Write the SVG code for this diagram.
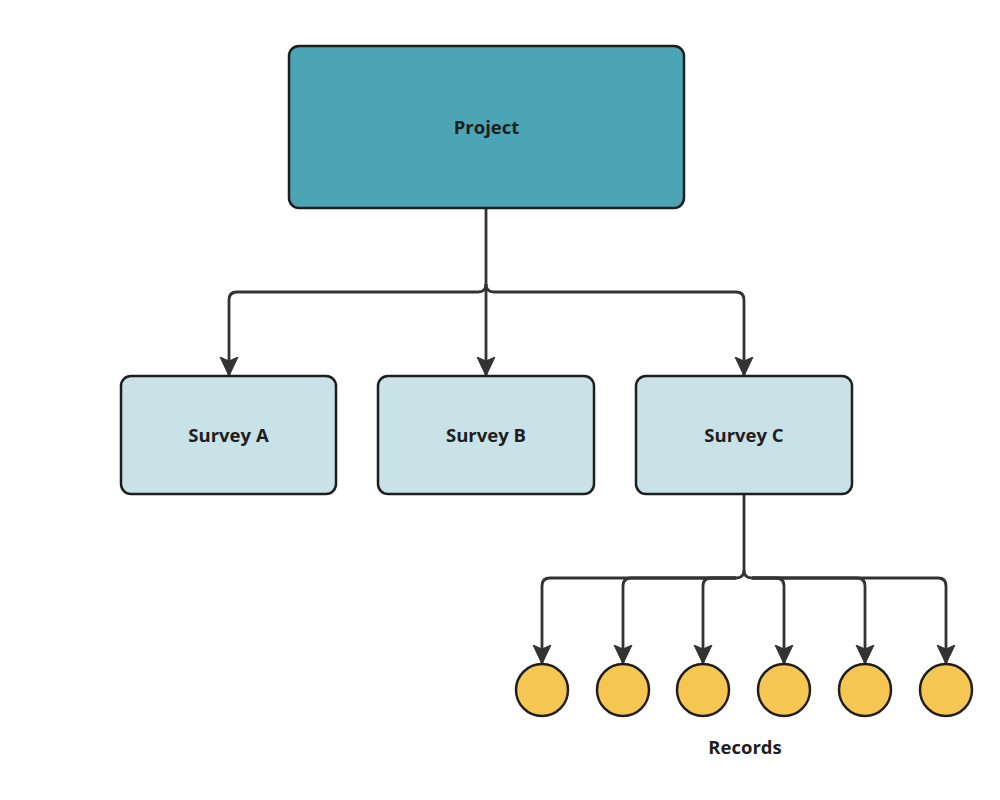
<svg xmlns="http://www.w3.org/2000/svg" width="1000" height="800" viewBox="0 0 1000 800">
<defs>
<style>
.node rect{stroke:#1e1e1e;stroke-width:2.5}
.proj{fill:#4ba5b4}
.survey{fill:#c9e2e7}
.rec{fill:#f5c752;stroke:#1e1e1e;stroke-width:2.5}
.lbl{font-family:"Open Sans","Liberation Sans",sans-serif;font-weight:bold;font-size:18.5px;fill:#1e1e1e;text-anchor:middle;dominant-baseline:central}
.conn path{fill:none;stroke:#333;stroke-width:2.8}
.conn path.a{marker-end:url(#arr)}
</style>
<marker id="arr" viewBox="0 0 20 20" refX="18" refY="10" markerWidth="20" markerHeight="20" markerUnits="userSpaceOnUse" orient="auto">
<path d="M0,1 L19,10 L0,19 L4,10 Z" fill="#333" stroke="#333" stroke-width="1" stroke-linejoin="round"/>
</marker>
</defs>
<rect width="1000" height="800" fill="#fff"/>
<g class="conn" id="connectors">
<path d="M486,209 V284"/>
<path class="a" d="M486,284 Q486,292 478,292 H237 Q229,292 229,300 V375"/>
<path class="a" d="M486,284 V375"/>
<path class="a" d="M486,284 Q486,292 494,292 H736 Q744,292 744,300 V375"/>
<path d="M744,495 V570"/>
<path class="a" d="M744,570 Q744,578 736,578 H550 Q542,578 542,586 V663"/>
<path class="a" d="M736,578 H631 Q623,578 623,586 V663"/>
<path class="a" d="M736,578 H711 Q703,578 703,586 V663"/>
<path class="a" d="M744,570 Q744,578 752,578 H776 Q784,578 784,586 V663"/>
<path class="a" d="M752,578 H857 Q865,578 865,586 V663"/>
<path class="a" d="M752,578 H938 Q946,578 946,586 V663"/>
</g>
<g class="node" id="project"><rect class="proj" x="289" y="46" width="395" height="162" rx="10"/><text class="lbl" x="486.5" y="126">Project</text></g>
<g class="node" id="surveyA"><rect class="survey" x="121" y="376" width="215" height="118" rx="10"/><text class="lbl" x="228.5" y="434">Survey A</text></g>
<g class="node" id="surveyB"><rect class="survey" x="378" y="376" width="216" height="118" rx="10"/><text class="lbl" x="486" y="434">Survey B</text></g>
<g class="node" id="surveyC"><rect class="survey" x="636" y="376" width="216" height="118" rx="10"/><text class="lbl" x="744" y="434">Survey C</text></g>
<g id="records">
<circle class="rec" cx="542" cy="690" r="26"/>
<circle class="rec" cx="623" cy="690" r="26"/>
<circle class="rec" cx="703" cy="690" r="26"/>
<circle class="rec" cx="784" cy="690" r="26"/>
<circle class="rec" cx="865" cy="690" r="26"/>
<circle class="rec" cx="946" cy="690" r="26"/>
<text class="lbl" x="745" y="746">Records</text>
</g>
</svg>
